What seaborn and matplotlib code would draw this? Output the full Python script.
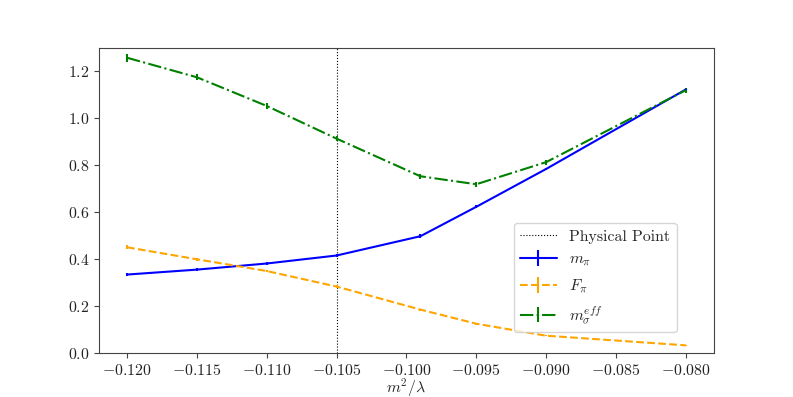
import numpy as np
import pandas as pd
import seaborn as sns
import matplotlib
matplotlib.use("Agg")
import matplotlib.pyplot as plt

# data
x_vals = [-0.120, -0.115, -0.110, -0.105, -0.099, -0.095, -0.090, -0.080]
m_pi = [0.335, 0.356, 0.382, 0.416, 0.498, 0.623, 0.784, 1.122]
m_pi_err = [0.008, 0.008, 0.008, 0.008, 0.008, 0.006, 0.006, 0.008]
f_pi = [0.451, 0.400, 0.350, 0.284, 0.186, 0.126, 0.075, 0.034]
f_pi_err = [0.008, 0.006, 0.005, 0.005, 0.004, 0.004, 0.003, 0.003]
m_sigma = [1.257, 1.174, 1.052, 0.913, 0.753, 0.719, 0.813, 1.119]
m_sigma_err = [0.017, 0.012, 0.012, 0.012, 0.010, 0.010, 0.010, 0.010]
physical_point = -0.105
labels = ["Physical Point", r"$m_\pi$", r"$F_\pi$", r"$m_\sigma^{eff}$"]

FS = 11.4
sns.set_style("ticks")
plt.rcParams["font.family"] = ["cmr10"]
plt.rcParams["mathtext.fontset"] = "cm"
plt.rcParams["axes.formatter.use_mathtext"] = True
plt.rcParams["font.size"] = FS
plt.rcParams["axes.unicode_minus"] = True

df = pd.DataFrame({"x": x_vals, "m_pi": m_pi, "f_pi": f_pi, "m_sigma": m_sigma})

fig, ax = plt.subplots(figsize=(7.93, 3.97), dpi=100)
fig.subplots_adjust(left=0.125, right=0.9, top=0.88, bottom=0.11)

ax.axvline(physical_point, color="black", linestyle=":", linewidth=0.8, label=labels[0])
ax.errorbar(df["x"], df["m_pi"], yerr=m_pi_err, color="blue", linestyle="-", linewidth=1.5,
            elinewidth=1.5, label=labels[1])
ax.errorbar(df["x"], df["f_pi"], yerr=f_pi_err, color="orange", linestyle="--", linewidth=1.5,
            elinewidth=1.5, label=labels[2])
ax.errorbar(df["x"], df["m_sigma"], yerr=m_sigma_err, color="green", linestyle="-.", linewidth=1.5,
            elinewidth=1.5, label=labels[3])

ax.set_ylim(0, 1.3)
ax.set_xlabel(r"$m^2/\lambda$", fontsize=FS, labelpad=-1)
for s in ax.spines.values():
    s.set_color("#444444")
    s.set_linewidth(0.8)
ax.tick_params(labelsize=FS, length=3.5, width=0.8, color="#444444", labelcolor="#222222")
ax.legend(loc="lower right", bbox_to_anchor=(0.9397, 0.0686), borderaxespad=0, fontsize=FS,
          framealpha=0.8, borderpad=0.4, labelspacing=0.55, handlelength=2.3)

fig.savefig("out.png", dpi=100)
